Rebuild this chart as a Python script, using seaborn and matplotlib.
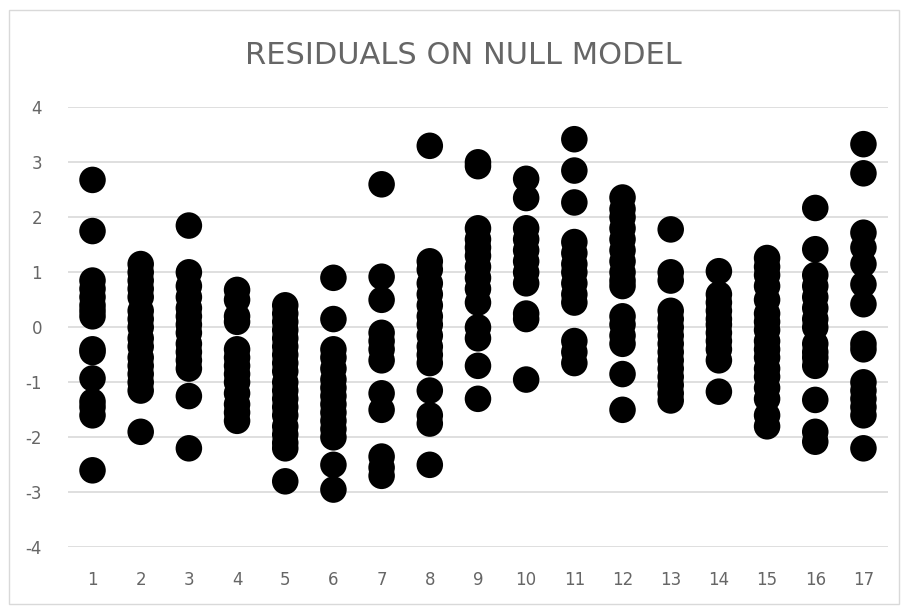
import matplotlib.pyplot as plt
import matplotlib.patches as mpatches
import pandas as pd
import seaborn as sns

# residuals per group
res_01 = [2.68, 1.75, 0.85, 0.7, 0.55, 0.4, 0.3, 0.2, -0.4, -0.45, -0.93, -1.35, -1.45, -1.6, -2.6]
res_02 = [1.15, 1.0, 0.85, 0.7, 0.55, 0.3, 0.15, 0.0, -0.2, -0.35, -0.55, -0.7, -0.85, -1.0, -1.15, -1.9]
res_03 = [1.85, 1.0, 0.75, 0.55, 0.35, 0.2, 0.05, -0.1, -0.3, -0.45, -0.6, -0.75, -1.25, -2.2]
res_04 = [0.68, 0.5, 0.2, 0.1, -0.4, -0.55, -0.7, -0.85, -1.0, -1.2, -1.4, -1.55, -1.7]
res_05 = [0.4, 0.25, 0.1, -0.05, -0.2, -0.35, -0.5, -0.65, -0.8, -1.0, -1.15, -1.3, -1.45,
          -1.6, -1.8, -1.95, -2.1, -2.2, -2.8]
res_06 = [0.9, 0.15, -0.4, -0.55, -0.75, -0.95, -1.1, -1.25, -1.4, -1.55, -1.7, -1.85, -2.0, -2.5, -2.95]
res_07 = [2.6, 0.92, 0.5, -0.1, -0.25, -0.4, -0.6, -1.2, -1.5, -2.35, -2.55, -2.7]
res_08 = [3.3, 1.2, 1.05, 0.8, 0.6, 0.4, 0.2, 0.05, -0.15, -0.35, -0.5, -0.65, -1.15, -1.6, -1.75, -2.5]
res_09 = [3.0, 2.93, 1.8, 1.6, 1.45, 1.3, 1.1, 0.9, 0.7, 0.45, 0.0, -0.2, -0.7, -1.3]
res_10 = [2.7, 2.35, 1.8, 1.6, 1.4, 1.2, 1.0, 0.8, 0.25, 0.15, -0.95]
res_11 = [3.42, 2.85, 2.27, 1.55, 1.35, 1.15, 1.0, 0.8, 0.6, 0.45, -0.25, -0.45, -0.65]
res_12 = [2.36, 2.15, 2.0, 1.8, 1.6, 1.4, 1.2, 1.0, 0.85, 0.75, 0.2, 0.05, -0.15, -0.3, -0.85, -1.5]
res_13 = [1.78, 1.0, 0.85, 0.3, 0.15, 0.0, -0.15, -0.3, -0.45, -0.6, -0.75, -0.9, -1.05, -1.2, -1.33]
res_14 = [1.02, 0.6, 0.45, 0.3, 0.15, 0.05, -0.1, -0.25, -0.4, -0.6, -1.17]
res_15 = [1.26, 1.1, 0.95, 0.75, 0.5, 0.25, 0.1, -0.05, -0.25, -0.4, -0.55, -0.75, -0.9,
          -1.1, -1.3, -1.6, -1.8]
res_16 = [2.17, 1.42, 0.95, 0.75, 0.55, 0.35, 0.15, 0.0, -0.3, -0.45, -0.55, -0.7, -1.32, -1.9, -2.08]
res_17 = [3.33, 2.8, 1.72, 1.45, 1.15, 0.78, 0.42, -0.3, -0.4, -1.0, -1.15, -1.3, -1.45, -1.6, -2.2]

groups = list(range(1, 18))
y_ticks = [-4, -3, -2, -1, 0, 1, 2, 3, 4]

all_res = [res_01, res_02, res_03, res_04, res_05, res_06, res_07, res_08, res_09,
           res_10, res_11, res_12, res_13, res_14, res_15, res_16, res_17]

rows = []
for g, vals in zip(groups, all_res):
    for v in vals:
        rows.append({"group": g, "residual": v})
df = pd.DataFrame(rows)

sns.set_style("white")
plt.rcParams["font.family"] = ["DejaVu Sans"]

TEXT_GREY = "#666666"
GRID_GREY = "#d9d9d9"

fig = plt.figure(figsize=(9.05, 6.08), dpi=100)
ax = fig.add_axes([0.0756, 0.0998, 0.9051, 0.7237])

sns.scatterplot(data=df, x="group", y="residual", s=365, color="black",
                edgecolor="none", linewidth=0, ax=ax, zorder=3, clip_on=False)

ax.set_xlim(0.5, 17.5)
ax.set_ylim(-4, 4)
ax.set_xticks(groups)
ax.set_yticks(y_ticks)
ax.set_yticklabels([str(t) for t in y_ticks])
ax.yaxis.grid(True, color=GRID_GREY, linewidth=1.2, zorder=0)
ax.xaxis.grid(False)
ax.set_axisbelow(True)
for s in ax.spines.values():
    s.set_visible(False)
ax.tick_params(axis="both", length=0, labelsize=12, colors=TEXT_GREY)
ax.tick_params(axis="x", pad=17)
ax.tick_params(axis="y", pad=19)
ax.set_xlabel("")
ax.set_ylabel("")

fig.text(463 / 905, 1 - 56 / 608, "RESIDUALS ON NULL MODEL", ha="center", va="center",
         fontsize=22, color=TEXT_GREY)

# light chart-area border
fig.patches.append(mpatches.Rectangle((9 / 905, 4 / 608), 890 / 905, 594 / 608,
                                      transform=fig.transFigure, fill=False,
                                      edgecolor=GRID_GREY, linewidth=1))

fig.savefig("out.png", dpi=100)
plt.close(fig)
